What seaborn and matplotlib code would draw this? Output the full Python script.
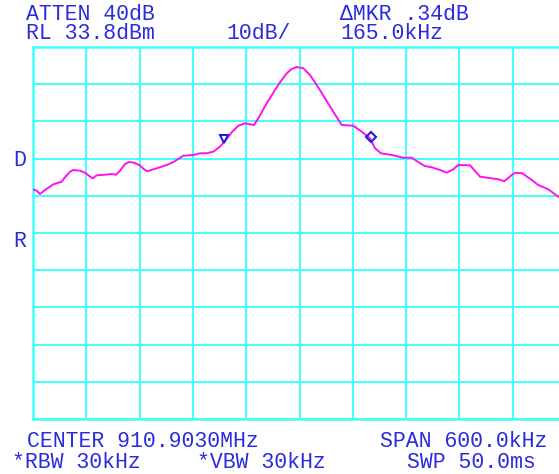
import matplotlib
matplotlib.use("Agg")
import matplotlib.pyplot as plt
import seaborn as sns
import pandas as pd
import numpy as np

# frequency offset from centre (kHz) and level (dBm)
freq_khz = [-300.3, -295.8, -292.1, -286.5, -277.1, -267.7, -264.0, -258.3, -254.6, -247.1,
            -241.5, -236.6, -232.8, -228.3, -218.9, -211.4, -206.6, -202.1, -196.4, -191.6,
            -186.3, -180.3, -175.0, -171.3, -164.6, -155.1, -146.6, -140.1, -130.8, -119.6,
            -112.0, -104.5, -97.0, -89.5, -83.9, -76.3, -68.9, -61.3, -55.7, -51.2,
            -46.4, -36.9, -27.6, -21.9, -14.4, -8.8, -3.1, -1.4, 4.3, 11.8,
            19.4, 28.7, 38.0, 47.5, 60.6, 70.0, 79.4, 85.0, 91.8, 103.8,
            116.8, 126.3, 137.6, 141.3, 148.8, 158.2, 165.7, 173.1, 178.8, 191.9,
            203.2, 216.4, 223.8, 230.5, 238.9, 243.4, 250.8, 261.4, 268.8, 280.1,
            291.3, 300.0]
level_dbm = [-4.45, -4.83, -5.72, -4.64, -3.11, -2.41, -1.23, 0.28, 0.74, 0.55,
             0.01, -0.88, -1.50, -0.69, -0.53, -0.34, -0.53, 0.55, 2.35, 2.89,
             2.70, 2.08, 0.92, 0.39, 0.92, 1.62, 2.35, 3.15, 4.58, 4.77,
             5.23, 5.23, 5.66, 7.00, 8.53, 10.87, 12.64, 13.29, 13.02, 12.83,
             14.63, 18.67, 22.24, 24.31, 26.73, 27.89, 28.42, 28.34, 28.07, 26.27,
             23.59, 20.01, 16.41, 12.83, 12.64, 11.03, 9.26, 6.57, 5.23, 4.77,
             4.04, 4.04, 2.27, 1.81, 1.46, 0.74, 0.01, 0.92, 2.08, 2.00,
             -1.07, -1.50, -1.76, -2.30, -0.61, 0.01, -0.15, -1.95, -3.30, -4.45,
             -6.44, -7.40]

marker_freq = [-84.5, 80.5]
marker_level = [9.07, 9.69]

ref_level = 33.8
db_per_div = 10
span_khz = 600

top_left = ["ATTEN 40dB", "RL 33.8dBm"]
top_mid = "10dB/"
top_right = ["\u0394MKR .34dB", "165.0kHz"]
bottom_texts = ["CENTER 910.9030MHz", "SPAN 600.0kHz", "*RBW 30kHz", "*VBW 30kHz", "SWP 50.0ms"]

sns.set_theme(style="white")
plt.rcParams['font.family'] = ['Liberation Mono', 'DejaVu Sans Mono']

W, H = 559, 474
fig = plt.figure(figsize=(W / 100, H / 100), dpi=100)
ax = fig.add_axes([33 / W, 1 - 419 / H, 533 / W, 372 / H])

df = pd.DataFrame({"freq": freq_khz, "level": level_dbm})
sns.lineplot(data=df, x="freq", y="level", ax=ax, color="#FF10F0", linewidth=1.4, zorder=3)

ax.plot([marker_freq[0]], [marker_level[0]], marker="v", ms=6, mfc="none", mec="#2020D8", mew=1.5, zorder=4)
ax.plot([marker_freq[1]], [marker_level[1]], marker="D", ms=5, mfc="none", mec="#2020D8", mew=1.5, zorder=4)

ax.set_xlim(-span_khz / 2, span_khz / 2)
ax.set_ylim(ref_level - 10 * db_per_div, ref_level)
ax.set_xticks(np.arange(-span_khz / 2, span_khz / 2 + 1, span_khz / 10))
ax.set_yticks([ref_level - db_per_div * k for k in range(11)])
ax.tick_params(length=0, labelbottom=False, labelleft=False)
ax.set_xlabel("")
ax.set_ylabel("")
ax.grid(True, color="#40FFFF", linewidth=1.4)
for s in ax.spines.values():
    s.set_color("#40FFFF")
    s.set_linewidth(1.8)

tc = "#2B2BDE"
fs = 15.5

def put(x, y, s, **kw):
    fig.text(x / W, 1 - y / H, s, color=tc, fontsize=fs, ha="left", va="baseline", **kw)

put(26, 39, "\n".join(top_left), linespacing=0.86)
put(226, 39, top_mid)
put(340, 39, "\n".join(top_right), linespacing=0.86)
put(27, 447, bottom_texts[0])
put(380, 447, bottom_texts[1])
put(12, 468, bottom_texts[2])
put(197, 468, bottom_texts[3])
put(407, 468, bottom_texts[4])
put(13, 166, "D")
put(13, 247, "R")

fig.savefig("out.png", dpi=100)
